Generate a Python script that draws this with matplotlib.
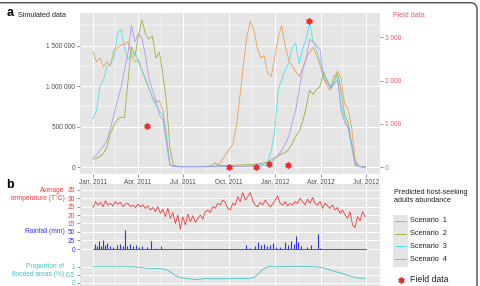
import numpy as np
import matplotlib
matplotlib.use("Agg")
import matplotlib.pyplot as plt
from matplotlib.patches import FancyBboxPatch, Rectangle
from matplotlib.lines import Line2D
from matplotlib.transforms import IdentityTransform

plt.rcParams['font.family'] = ['Liberation Sans', 'DejaVu Sans']

W, H = 480, 286

# ---- data ---------------------------------------------------------------
# simulated host-seeking adults (thousands), one value a week from 1 Jan 2011
scenario1 = [1426, 1300, 1350, 1240, 1300, 1250, 1450, 1475, 1510, 1515,
             1550, 1390, 1300, 1330, 1200, 1100, 980, 870, 800, 820,
             700, 420, 40, 12,
             8, 6, 5, 5, 5, 5, 6, 6, 7, 8, 9,
             12, 30, 90, 160, 220, 280, 500, 850, 1250, 1600,
             1800, 1700, 1480, 1350, 1380, 1160, 1120, 1350, 1600, 1750,
             1500, 1330, 1250, 1180, 1120, 1220, 1350, 1420, 1480, 1380,
             1250, 1100, 1000, 950, 1060, 1190, 1100, 780, 720, 500,
             100, 15, 5, 5]
scenario2 = [100, 110, 130, 170, 250, 420, 520, 590, 620, 610,
             1050, 1490, 1370, 1610, 1820, 1650, 1580, 1620, 1350, 1420,
             1150, 820, 250, 30, 15,
             12, 10, 10, 10, 10, 10, 12, 12, 15, 20,
             55, 25, 20, 20, 22, 25, 25, 28, 30, 32,
             35, 38, 40, 45, 55, 70, 90, 120, 140, 165,
             180, 220, 290, 380, 440, 560, 740, 950, 900, 960,
             1000, 1180, 1050, 980, 1130, 1150, 950, 650, 560, 300,
             60, 10, 5, 5]
scenario3 = [600, 700, 1000, 1080, 1240, 1280, 1330, 1650, 1700, 1480,
             1330, 1400, 1420, 1300, 1200, 1080, 980, 850, 760, 700,
             640, 380, 30,
             10, 8, 8, 8, 8, 8, 8, 8, 8, 8, 8, 8, 8, 8, 10, 10, 10, 12, 12,
             14, 14, 16, 18,
             20, 25, 30, 40, 60, 200, 450, 950, 1080, 1200,
             1280, 1480, 1530, 1280, 1450, 1580, 1790, 1550, 1450, 1300,
             1150, 1080, 1000, 1050, 1130, 780, 600, 500, 250, 30,
             10, 5, 5]
scenario4 = [120, 150, 210, 260, 330, 480, 650, 820, 980, 1200,
             1400, 1750, 1550, 1650, 1600, 1380, 1100, 950, 830, 650,
             580, 300, 25,
             8, 6, 6, 6, 6, 6, 6, 6, 6, 6, 6, 6, 6, 6, 6, 8, 8, 8, 10, 10,
             10, 12, 12, 14, 16, 18, 22,
             30, 60, 100, 150, 210, 280, 380, 550, 700, 950,
             1200, 1330, 1580, 1550, 1500, 1450, 1100, 1050, 980, 1020,
             1080, 700, 560, 480, 300, 30, 10, 5, 5]
scenario_labels = ["Scenario  1", "Scenario  2", "Scenario  3", "Scenario  4"]

# field data (days since 1 Jan 2011)
field_days = [108, 273, 327, 353, 391, 433]
field_values = [953, 10, 10, 76, 53, 3383]

# average temperature, every 5 days from 1 Jan 2011
temperature = [24.5, 28, 26, 27.5, 25, 28.5, 26, 27, 25.5, 28,
               26.5, 27.5, 25, 26.5, 27, 25, 26, 24.5, 26.5, 25,
               26, 24, 25.5, 23, 24.5, 22, 25, 21, 23.5, 19,
               24, 18, 21.5, 15, 20, 11.5, 19, 14, 20.5, 16,
               19.5, 15.5, 18, 20, 17.5, 22, 23, 21.5, 25, 24,
               27, 26, 29, 27.5, 24, 23, 27, 26, 31, 28,
               33.5, 29, 31, 33.5, 28.5, 26, 25, 27.5, 26, 29,
               27, 25, 26.5, 29, 31.5, 27, 26, 28, 25.5, 27,
               26, 28, 27, 30, 28, 26, 29.5, 27, 30.5, 27,
               26, 28, 24, 27, 25.5, 24, 26, 23, 24.5, 21,
               23, 20, 18, 22, 14, 12.5, 19, 16.5, 22, 19]

# rainfall events (day, mm)
rain_days = [4, 8, 12, 16, 20, 24, 28, 34, 40, 48, 54, 60, 64, 68, 74, 80,
             86, 92, 98, 108, 116, 124, 136,
             307, 315, 325, 331, 337, 343, 349, 355, 361, 367, 375, 385, 391,
             397, 403, 407, 411, 417, 429, 437, 451, 455]
rain_mm = [15, 8, 22, 10, 25, 12, 18, 8, 5, 12, 15, 10, 56, 8, 14, 10,
           12, 6, 8, 6, 22, 3, 10,
           12, 4, 10, 20, 12, 15, 10, 12, 18, 6, 5, 20, 12,
           22, 15, 38, 20, 8, 5, 11, 42, 3]
period = [0, 547]

# proportion of flooded areas
flood_days = [0, 34, 64, 84, 90, 104, 124, 140, 150, 158, 166, 174, 185,
              205, 225, 239, 275, 315, 323, 331, 339, 347, 355, 367, 385,
              415, 445, 459, 475, 495, 515, 529, 545]
flood_prop = [1.0, 1.0, 1.0, 0.99, 0.97, 0.92, 0.89, 0.87, 0.78, 0.6, 0.45,
              0.33, 0.28, 0.2, 0.26, 0.25, 0.26, 0.27, 0.35, 0.55, 0.8, 0.95,
              1.03, 0.99, 1.02, 1.03, 1.0, 0.95, 0.8, 0.62, 0.42, 0.3, 0.28]

quarter_days = [0, 90, 181, 273, 365, 456, 547]
quarter_labels = ["Jan. 2011", "Apr. 2011", "Jul. 2011", "Oct. 2011",
                  "Jan. 2012", "Apr. 2012", "Jul. 2012"]
mid_days = [45, 135.5, 227, 319, 410.5, 501.5]

# ---- style -------------------------------------------------------------
BG = '#E5E5E5'
colors = ['#EDA04F', '#9AB23C', '#4DE3E8', '#B794F2']
RED = '#EE2A2A'
PINK = '#F0566A'
TEMP_C = '#EE3B3B'
RAIN_C = '#3030F0'
FLOOD_C = '#3DC6C6'
TICK_C = '#4D4D4D'
XMIN, XMAX = -26, 575


def box(left, top, right, bottom):
    return [left / W, 1 - bottom / H, (right - left) / W, (bottom - top) / H]


def fx(x):
    return x / W


def fy(y):
    return 1 - y / H


def clean(ax):
    for s in ax.spines.values():
        s.set_visible(False)


fig = plt.figure(figsize=(4.8, 2.86), dpi=100)

# ---- panel a -------------------------------------------------------------
sim_days = np.arange(len(scenario1)) * 7
ax = fig.add_axes(box(80, 13.3, 380, 174))
ax.set_facecolor(BG)
clean(ax)
ax.set_axisbelow(True)
ax.set_xlim(XMIN, XMAX)
ax.set_ylim(-83, 1900)
ax.set_xticks(quarter_days)
ax.set_xticklabels(quarter_labels)
ax.set_xticks(mid_days, minor=True)
left_ticks = [0, 500, 1000, 1500]
ax.set_yticks(left_ticks)
ax.set_yticklabels([f"{v * 1000:,}".replace(",", " ") for v in left_ticks])
ax.set_yticks([250, 750, 1250, 1750], minor=True)
ax.grid(which='major', color='white', lw=0.7)
ax.grid(which='minor', color='white', lw=0.35)
ax.tick_params(which='major', length=2, width=0.5, color='#666666',
               labelsize=4.7, labelcolor=TICK_C, pad=1.5)
ax.tick_params(which='minor', length=0)

for vals, col in zip([scenario1, scenario2, scenario3, scenario4], colors):
    ax.plot(sim_days, vals, color=col, lw=0.6)

axf = ax.twinx()
clean(axf)
axf.set_ylim(-155, 3554)
right_ticks = [0, 1000, 2000, 3000]
axf.set_yticks(right_ticks)
axf.set_yticklabels([f"{v:,}".replace(",", " ") for v in right_ticks])
axf.tick_params(length=2, width=0.5, color='#666666', labelsize=4.7,
                labelcolor=PINK, pad=1.5)
axf.plot(field_days, field_values, ls='none', marker=(6, 1, 0), ms=4.5,
         color=RED, mec=RED)

fig.text(fx(7), fy(13), "a", weight='bold', size=9, va='center')
fig.text(fx(18), fy(15.5), "Simulated data", size=5.2, va='center', color='#222222')
fig.text(fx(393), fy(15.5), "Field data", size=5.2, va='center', color=PINK)

# ---- panel b -------------------------------------------------------------
pb = box(80, 184, 380, 286)
axb = fig.add_axes(pb)
axb.set_facecolor(BG)
clean(axb)
axb.set_xlim(XMIN, XMAX)
axb.set_ylim(0, 1)
axb.set_xticks(quarter_days)
axb.set_xticks(mid_days, minor=True)
axb.set_yticks([])
axb.grid(axis='x', which='major', color='white', lw=0.7)
axb.grid(axis='x', which='minor', color='white', lw=0.35)
axb.tick_params(which='both', length=0, labelbottom=False)


def overlay(ylim, ticks, labels, col):
    a = fig.add_axes(pb)
    a.patch.set_visible(False)
    clean(a)
    a.set_xlim(XMIN, XMAX)
    a.set_ylim(*ylim)
    a.set_xticks([])
    a.set_yticks(ticks)
    a.set_yticklabels(labels)
    a.grid(axis='y', color='white', lw=0.7)
    a.tick_params(length=2, width=0.5, color='#666666', labelsize=4.7,
                  labelcolor=col, pad=1.5)
    return a


temp_days = np.arange(len(temperature)) * 5
ax_t = overlay((-22.6, 38.6), [15, 20, 25, 30, 35],
               ["15", "20", "25", "30", "35"], TEMP_C)
ax_t.plot(temp_days, temperature, color=TEMP_C, lw=0.6)

ax_r = overlay((-107, 188), [0, 25, 50], ["0", "25", "50"], RAIN_C)
ax_r.plot(period, [0, 0], color=RAIN_C, lw=0.6)
ax_r.vlines(rain_days, 0, rain_mm, colors=RAIN_C, lw=0.8)

ax_fl = overlay((-0.2, 6.17), [0, 0.5, 1], ["0", "0.5", "1"], FLOOD_C)
ax_fl.plot(flood_days, flood_prop, color=FLOOD_C, lw=0.6)

fig.text(fx(6.5), fy(185), "b", weight='bold', size=9, va='center')
fig.text(fx(64.5), fy(190.7), "Average", size=4.8,
         ha='right', va='center', color=TEMP_C)
fig.text(fx(64.5), fy(198.3), "temperature (T°C)", size=4.8,
         ha='right', va='center', color=TEMP_C)
fig.text(fx(64.5), fy(231.7), "Rainfall (mm)", size=4.8,
         ha='right', va='center', color=RAIN_C)
fig.text(fx(64.5), fy(266.7), "Proportion of", size=4.8,
         ha='right', va='center', color=FLOOD_C)
fig.text(fx(64.5), fy(274.2), "flooded areas (%)", size=4.8,
         ha='right', va='center', color=FLOOD_C)

# ---- legend ----------------------------------------------------------------
fig.text(fx(394), fy(188.5), "Predicted host-seeking\nadults abundance", size=5.2,
         va='top', color='#222222', linespacing=1.3)
fig.add_artist(Rectangle((fx(393), fy(267)), 15 / W, 52 / H,
                         transform=fig.transFigure, fc=BG, ec='none'))
for k, (lab, col) in enumerate(zip(scenario_labels, colors)):
    yc = 221 + k * 12.7
    fig.add_artist(Line2D([fx(395), fx(406)], [fy(yc), fy(yc)], color=col, lw=0.7))
    fig.text(fx(410), fy(yc), lab, size=5.3, va='center', color='#222222')
fig.add_artist(Line2D([fx(401)], [fy(280)], ls='none', marker=(6, 1, 0), ms=4.5,
                      color=RED, mec=RED))
fig.text(fx(410), fy(280), "Field data", size=6.3, va='center', color='#222222')

# ---- frame -----------------------------------------------------------------
frame = FancyBboxPatch((-20, -20), 497, 286 - 2.7 + 20,
                       boxstyle="round,pad=0,rounding_size=7",
                       transform=IdentityTransform(), fc='none', ec='#5A5A5A', lw=1.1)
fig.add_artist(frame)

fig.savefig('out.png', dpi=100)
